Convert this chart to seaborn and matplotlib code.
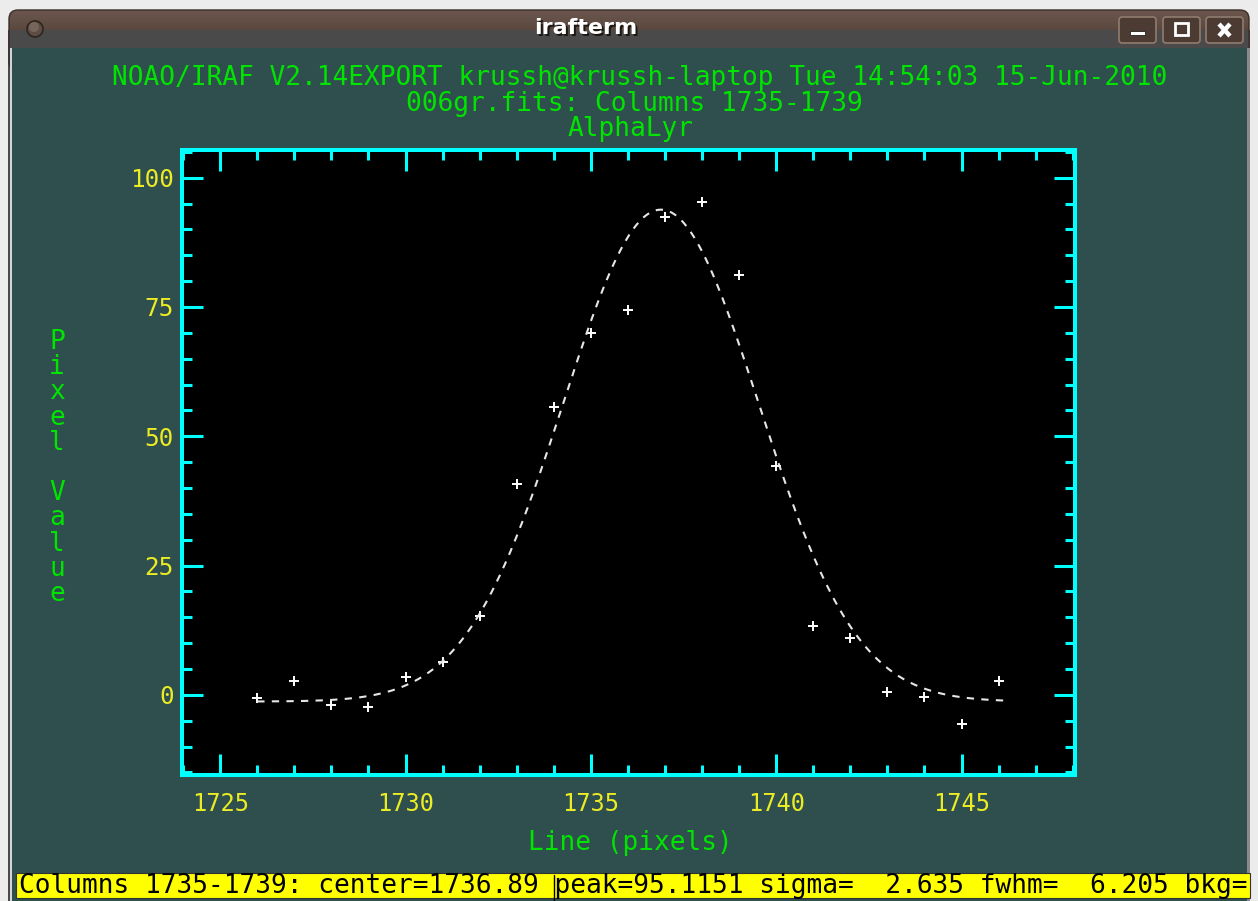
import numpy as np
import matplotlib
matplotlib.use("Agg")
import matplotlib.pyplot as plt
from matplotlib.patches import Rectangle, FancyBboxPatch, Circle
from matplotlib.ticker import MultipleLocator
import seaborn as sns

# Column-summed profile (columns 1735-1739) along the line axis
line_pix = [1726, 1727, 1728, 1729, 1730, 1731, 1732, 1733, 1734, 1735, 1736,
            1737, 1738, 1739, 1740, 1741, 1742, 1743, 1744, 1745, 1746]
pixel_value = [-0.6, 2.7, -1.9, -2.3, 3.5, 6.4, 15.3, 40.8, 55.7, 70.0, 74.4,
               92.4, 95.3, 81.2, 44.3, 13.3, 11.0, 0.6, -0.4, -5.6, 2.7]

# Gaussian fit parameters
fit_center = 1736.89
fit_peak = 95.1151
fit_sigma = 2.635
fit_fwhm = 6.205
fit_bkg = -1.3
fit_start, fit_end = 1726.0, 1746.2

x_ticks = [1725, 1730, 1735, 1740, 1745]
y_ticks = [0, 25, 50, 75, 100]

title_lines = [
    "NOAO/IRAF V2.14EXPORT krussh@krussh-laptop Tue 14:54:03 15-Jun-2010",
    "006gr.fits: Columns 1735-1739",
    "AlphaLyr",
]
x_label = "Line (pixels)"
y_label = "Pixel Value"
window_title = "irafterm"
status_text = (f"Columns 1735-1739: center={fit_center:.2f} peak={fit_peak:.4f} "
               f"sigma={fit_sigma:7.3f} fwhm={fit_fwhm:7.3f} bkg=")

W, H = 1258, 901
MONO = "DejaVu Sans Mono"
GREEN = "#00e400"
YELLOW = "#ecec24"
CYAN = "#00ffff"
SLATE = "#2f4f4f"

sns.set_style("white")
plt.rcParams["font.family"] = ["DejaVu Sans"]

fig = plt.figure(figsize=(W / 100, H / 100), dpi=100)
fig.patch.set_facecolor("#ececec")

# ---- window decoration, in pixel coordinates ----
bg = fig.add_axes([0, 0, 1, 1])
bg.set_xlim(0, W)
bg.set_ylim(H, 0)
bg.axis("off")

bg.add_patch(Rectangle((8, 30), 1242, H - 30, facecolor="#4a4a4a", edgecolor="none"))
bar = FancyBboxPatch((9, 10), 1240, 60, boxstyle="round,pad=0,rounding_size=9",
                     facecolor="none", edgecolor="#3a2e28", lw=1)
bg.add_patch(bar)
grad = np.linspace(0, 1, 64).reshape(-1, 1)
top_c = np.array([0.42, 0.34, 0.30])
bot_c = np.array([0.29, 0.23, 0.20])
img = top_c[None, None, :] * (1 - grad[..., None]) + bot_c[None, None, :] * grad[..., None]
im = bg.imshow(img, extent=(9, 1249, 49, 10), aspect="auto", interpolation="bilinear")
im.set_clip_path(bar)

bg.add_patch(Rectangle((12, 48), 1235, H - 48, facecolor=SLATE, edgecolor="none"))
bg.add_patch(Rectangle((10, 48), 2, H - 48, facecolor="#d4d4d4", edgecolor="none"))
bg.add_patch(Rectangle((1247, 48), 3, H - 48, facecolor="#8a8a8a", edgecolor="none"))

# left knob
bg.add_patch(Circle((35, 29), 8, facecolor="#5e4d44", edgecolor="#2e241f", lw=1.2))
bg.add_patch(Circle((34, 27), 5, facecolor="#76655b", edgecolor="none"))

# window buttons
for x0, x1 in [(1119, 1156), (1163, 1200), (1206, 1243)]:
    bg.add_patch(FancyBboxPatch((x0, 17), x1 - x0, 26,
                                boxstyle="round,pad=0,rounding_size=3",
                                facecolor="#4b3b33", edgecolor="#8c776b", lw=1.3))
bg.add_patch(Rectangle((1130, 31), 15, 4, facecolor="white", edgecolor="#222", lw=0.6))
bg.add_patch(Rectangle((1175, 23), 13, 12, facecolor="none", edgecolor="white", lw=2.0))
bg.plot([1219, 1230], [24, 36], color="white", lw=3.2, solid_capstyle="butt")
bg.plot([1230, 1219], [24, 36], color="white", lw=3.2, solid_capstyle="butt")

bg.text(588, 30, window_title, ha="center", va="center", fontsize=16,
        fontweight="bold", color="#1e1814")
bg.text(586, 28, window_title, ha="center", va="center", fontsize=16,
        fontweight="bold", color="white")

# plot titles
for txt, xc, yc in zip(title_lines, [640, 634, 631], [78, 104, 129]):
    bg.text(xc, yc, txt, ha="center", va="center", fontsize=18.8,
            family=MONO, color=GREEN)

# axis labels
bg.text(630, 843, x_label, ha="center", va="center", fontsize=18.8,
        family=MONO, color=GREEN)
for i, ch in enumerate(y_label):
    bg.text(57, 342 + 25.2 * i, ch, ha="center", va="center", fontsize=18.8,
            family=MONO, color=GREEN)

# status line
bg.add_patch(Rectangle((16, 873), 1234, 25, facecolor="#ffff00",
                       edgecolor="#333333", lw=0.8))
bg.text(19, 886, status_text, ha="left", va="center", fontsize=18.8,
        family=MONO, color="black")
bg.plot([554, 554], [875, 901], color="black", lw=1.0)

# ---- the plot itself ----
ax = fig.add_axes([182 / W, 1 - 775 / H, 893 / W, 625 / H])
ax.set_facecolor("black")

xf = np.linspace(fit_start, fit_end, 400)
yf = fit_bkg + fit_peak * np.exp(-0.5 * ((xf - fit_center) / fit_sigma) ** 2)

sns.lineplot(x=xf, y=yf, ax=ax, color="#e6e6e6", lw=1.5,
             linestyle=(0, (3.5, 3.5)), errorbar=None)
sns.scatterplot(x=line_pix, y=pixel_value, ax=ax, marker="+", s=42,
                color="white", linewidth=1.4)

ax.set_xlim(1723.97, 1748.06)
ax.set_ylim(-15.5, 105.35)
ax.set_xticks(x_ticks)
ax.set_yticks(y_ticks)
ax.xaxis.set_minor_locator(MultipleLocator(1))
ax.yaxis.set_minor_locator(MultipleLocator(5))
ax.set_xlabel("")
ax.set_ylabel("")

for sp in ax.spines.values():
    sp.set_color(CYAN)
    sp.set_linewidth(2.9)
    sp.set_visible(True)

ax.tick_params(which="both", direction="in", color=CYAN, width=2.2,
               top=True, right=True, bottom=True, left=True)
ax.tick_params(which="major", length=15)
ax.tick_params(which="minor", length=7.5)
ax.tick_params(axis="x", which="major", pad=12, labelsize=17, labelcolor=YELLOW)
ax.tick_params(axis="y", which="major", pad=6, labelsize=17.5, labelcolor=YELLOW)
for lab in ax.get_xticklabels() + ax.get_yticklabels():
    lab.set_family(MONO)

fig.savefig("out.png", dpi=100, facecolor=fig.get_facecolor())
